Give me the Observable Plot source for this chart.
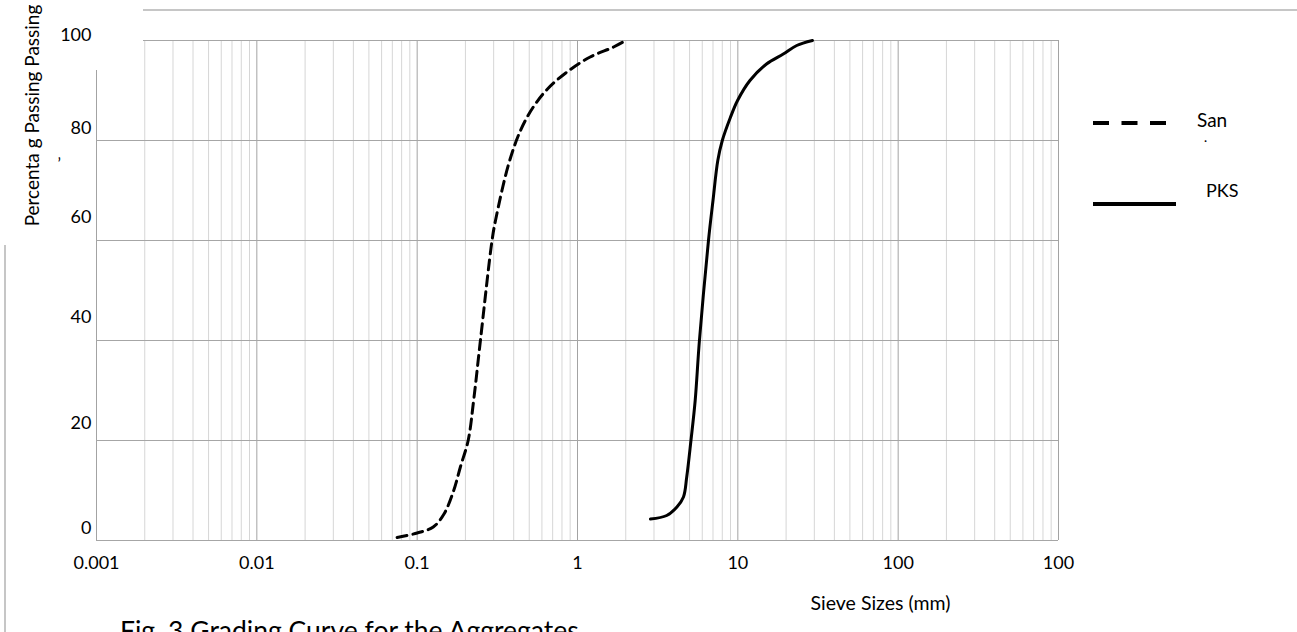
<!DOCTYPE html>
<html>
<head>
<meta charset="utf-8">
<script src="https://cdn.jsdelivr.net/npm/d3@7"></script>
<script src="https://cdn.jsdelivr.net/npm/@observablehq/plot@0.6"></script>
<style>
  body { margin: 0; background: #fff; }
  #wrap { position: relative; width: 1297px; height: 632px; overflow: hidden; background: #fff; font-family: Lato, "Open Sans", sans-serif; }
  #chart svg { display: block; }
  #caption { font-size: 26.5px; line-height: 1.2; padding-left: 120px; white-space: nowrap; color: #000; }
  .deco { position: absolute; background: #c6c6c6; }
  #legend { position: absolute; left: 0; top: 0; pointer-events: none; }
</style>
</head>
<body>
<div id="wrap">
  <div id="chart"></div>
  <div id="caption">Fig. 3 Grading Curve for the Aggregates</div>
  <div class="deco" style="left:143px; top:9px; width:1154px; height:2px;"></div>
  <div class="deco" style="left:4px; top:245px; width:2px; height:387px;"></div>
  <div style="position:absolute; left:94px; top:35px; width:49px; height:35px; background:#fff;"></div>
</div>
<script>
// ---- data ----
const sandSize = [0.075, 0.1, 0.126, 0.147, 0.169, 0.186, 0.208, 0.225, 0.248, 0.293, 0.308, 0.372, 0.441, 0.53, 0.65, 0.86, 1.2, 1.68, 2.0];
const sandPass = [0.6, 1.5, 2.7, 5.3, 10, 14.7, 20, 28, 40, 60, 64, 75.3, 82, 86.7, 90.3, 93.7, 96.7, 98.7, 100];

const pksSize = [2.85, 3.6, 4.17, 4.58, 4.8, 5.1, 5.42, 5.76, 6.56, 7.0, 7.5, 8.0, 8.96, 9.96, 11.9, 15.1, 19.2, 23.3, 29.2];
const pksPass = [4.3, 5, 6.7, 8.7, 12.7, 20, 28, 40, 60, 68, 76, 80, 84.5, 88, 92, 95.3, 97.3, 99, 100];

const xTicks = [0.001, 0.01, 0.1, 1, 10, 100, 1000];
const xTickLabels = ["0.001", "0.01", "0.1", "1", "10", "100", "100"];
const yTicks = [0, 20, 40, 60, 80, 100];
const seriesNames = ["San", "PKS"];
const xTitle = "Sieve Sizes (mm)";
const yTitle = "Percenta g Passing Passing";

// ---- build tables ----
const sand = sandSize.map((s, i) => ({ size: s, pass: sandPass[i] }));
const pks = pksSize.map((s, i) => ({ size: s, pass: pksPass[i] }));
const minorTicks = [];
xTicks.slice(0, -1).forEach(d => { for (let k = 2; k <= 9; k++) minorTicks.push(d * k); });

const font = "Lato, 'Open Sans', sans-serif";
const yAxis = (ticks, dy) => Plot.axisY(ticks, { tickSize: 0, tickPadding: 5, dy, fontSize: 18, label: null });

const chart = Plot.plot({
  width: 1297,
  height: 615,
  marginLeft: 96,
  marginRight: 239,
  marginTop: 40,
  marginBottom: 75,
  x: { type: "log", domain: [0.001, 1000], label: null },
  y: { domain: [0, 100], label: null },
  style: { fontFamily: font, fontSize: "18px", color: "#000", background: "#fff", overflow: "visible" },
  marks: [
    Plot.ruleX(minorTicks, { stroke: "#d6d6d6", strokeWidth: 1 }),
    Plot.ruleX(xTicks, { stroke: "#a3a3a3", strokeWidth: 1 }),
    Plot.ruleY(yTicks, { stroke: "#a6a6a6", strokeWidth: 1 }),
    Plot.axisX(xTicks, { tickSize: 0, tickPadding: 16, tickFormat: d => xTickLabels[xTicks.indexOf(d)], fontSize: 18, label: null }),
    yAxis([100], -5),
    yAxis([80, 0], -12),
    yAxis([60, 40], -23),
    yAxis([20], -17),
    Plot.line(sand, { x: "size", y: "pass", stroke: "#000", strokeWidth: 3, strokeDasharray: "10,6", curve: "catmull-rom" }),
    Plot.line(pks, { x: "size", y: "pass", stroke: "#000", strokeWidth: 3, curve: "catmull-rom" }),
    Plot.text([xTitle], { frameAnchor: "bottom-right", dx: -178, dy: 69, fontSize: 19.5, textAnchor: "middle" }),
    Plot.text([yTitle], { frameAnchor: "top-left", rotate: -90, dx: -71, dy: 75, fontSize: 19, textAnchor: "middle" }),
    Plot.text(["’"], { frameAnchor: "top-left", dx: -39, dy: 117, fontSize: 16 })
  ]
});
document.getElementById("chart").appendChild(chart);

// ---- legend (right side) ----
const ns = "http://www.w3.org/2000/svg";
const leg = document.createElementNS(ns, "svg");
leg.setAttribute("id", "legend");
leg.setAttribute("width", 1297);
leg.setAttribute("height", 632);
leg.innerHTML = `
  <line x1="1093" y1="123" x2="1166" y2="123" stroke="#000" stroke-width="4" stroke-dasharray="16,12.5"/>
  <text x="1197" y="120" dy="0.35em" font-size="19" font-family="${font}">${seriesNames[0]}</text>
  <text x="1204" y="141" dy="0.35em" font-size="12" font-family="${font}">·</text>
  <line x1="1093" y1="204" x2="1176" y2="204" stroke="#000" stroke-width="4"/>
  <text x="1206" y="191" dy="0.35em" font-size="18" font-family="${font}">${seriesNames[1]}</text>
`;
document.getElementById("wrap").appendChild(leg);
</script>
</body>
</html>
